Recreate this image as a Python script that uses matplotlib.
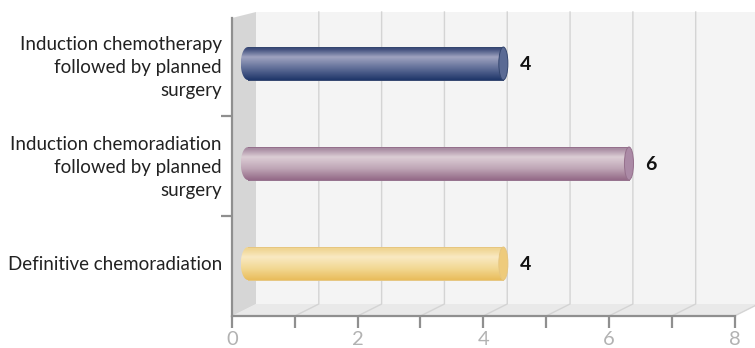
import numpy as np
import matplotlib
matplotlib.use('Agg')
import matplotlib.pyplot as plt
from matplotlib.colors import LinearSegmentedColormap
from matplotlib.patches import Ellipse, Polygon

categories = ['Definitive chemoradiation',
              'Induction chemoradiation\nfollowed by planned\nsurgery',
              'Induction chemotherapy\nfollowed by planned\nsurgery']
values = [4, 6, 4]
x_ticks = [0, 1, 2, 3, 4, 5, 6, 7, 8]
x_labels = ['0', '', '2', '', '4', '', '6', '', '8']

# top edge, highlight, mid, bottom edge, cap, outline
bar_styles = [
    ['#f0d592', '#f9e9c2', '#f2d893', '#e9bd5c', '#eecb7c', '#e6c680'],
    ['#a88ca2', '#dccdd5', '#bfa6b6', '#946a88', '#ab8aa6', '#95708c'],
    ['#3d4c7a', '#9fa3c0', '#5f6d97', '#20376a', '#5a6a94', '#34466f'],
]

plt.rcParams['font.family'] = ['Lato', 'DejaVu Sans']

fig = plt.figure(figsize=(7.55, 3.48), dpi=100)
ax = fig.add_axes([232 / 755, 32 / 348, 502.5 / 755, 300 / 348])

# depth of the box, in data units
dx = 0.382
dy = 0.12
top = 3.04

# walls and floor
ax.add_patch(Polygon([(dx, dy), (8 + dx, dy), (8 + dx, top), (dx, top)],
                     fc='#f4f4f4', ec='none', zorder=0, clip_on=False))
ax.add_patch(Polygon([(0, 0), (dx, dy), (8 + dx, dy), (8, 0)],
                     fc='#e9e9e9', ec='none', zorder=0, clip_on=False))
ax.add_patch(Polygon([(0, 0), (dx, dy), (dx, top), (0, 2.98)],
                     fc='#d6d6d6', ec='none', zorder=0, clip_on=False))

for t in x_ticks[1:]:
    ax.plot([t, t + dx, t + dx], [0, dy, top], color='#d4d4d4', lw=1,
            zorder=1, clip_on=False)

# cylinders
bar_h = 0.33
start = 0.14
cap_w = 0.072
shift = 0.32
for i, v in enumerate(values):
    top_c, hi, mid, bot, cap, edge = bar_styles[i]
    yc = i + 0.525
    x0 = start + cap_w * 1.6
    x1 = v + shift

    cmap = LinearSegmentedColormap.from_list(
        'c' + str(i), [(0, top_c), (0.05, top_c), (0.3, hi), (0.65, mid), (1, bot)])
    grad = np.linspace(0, 1, 64).reshape(-1, 1)
    im = ax.imshow(grad, cmap=cmap, aspect='auto', interpolation='bilinear',
                   extent=[start, x1, yc - bar_h / 2, yc + bar_h / 2],
                   zorder=3, clip_on=True)

    # rounded left end of the body, used as the clip for the gradient
    a = np.linspace(np.pi / 2, 3 * np.pi / 2, 40)
    left = np.column_stack([x0 + (x0 - start) * np.cos(a), yc + bar_h / 2 * np.sin(a)])
    outline = np.vstack([left, [(x1, yc - bar_h / 2), (x1, yc + bar_h / 2)]])
    body = Polygon(outline, closed=True, fc='none', ec='none', zorder=4, clip_on=False)
    ax.add_patch(body)
    im.set_clip_path(body)
    ax.plot([x0, x1], [yc + bar_h / 2] * 2, color=edge, lw=0.7, zorder=4, clip_on=False)
    ax.plot([x0, x1], [yc - bar_h / 2] * 2, color=edge, lw=0.7, zorder=4, clip_on=False)

    ax.add_patch(Ellipse((x1, yc), cap_w * 2, bar_h, fc=cap, ec=edge, lw=0.7,
                         zorder=5, clip_on=False))

    ax.text(x1 + 0.26, yc - 0.005, str(v), fontsize=14, fontweight='bold', color='#111111',
            ha='left', va='center', zorder=6)

ax.set_xlim(0, 8)
ax.set_ylim(0, 3)

for s in ['top', 'right']:
    ax.spines[s].set_visible(False)
for s in ['left', 'bottom']:
    ax.spines[s].set_color('#8f8f8f')
    ax.spines[s].set_linewidth(1.6)
    ax.spines[s].set_zorder(2)
ax.spines['left'].set_bounds(0, 2.98)
ax.patch.set_visible(False)

ax.set_xticks(x_ticks)
ax.set_xticklabels(x_labels, fontsize=14.5, color='#b2b2b2')
ax.tick_params(axis='x', length=8.5, width=1.6, color='#8f8f8f', pad=2.5)

ax.set_yticks([i + 0.53 for i in range(3)])
ax.set_yticklabels(categories, fontsize=13.5, color='#222222', ha='right', linespacing=1.44)
ax.set_yticks([1, 2], minor=True)
ax.tick_params(axis='y', which='major', length=0, pad=7.2)
ax.tick_params(axis='y', which='minor', length=8, width=1.6, color='#8f8f8f')

fig.savefig('out.png', dpi=100)
